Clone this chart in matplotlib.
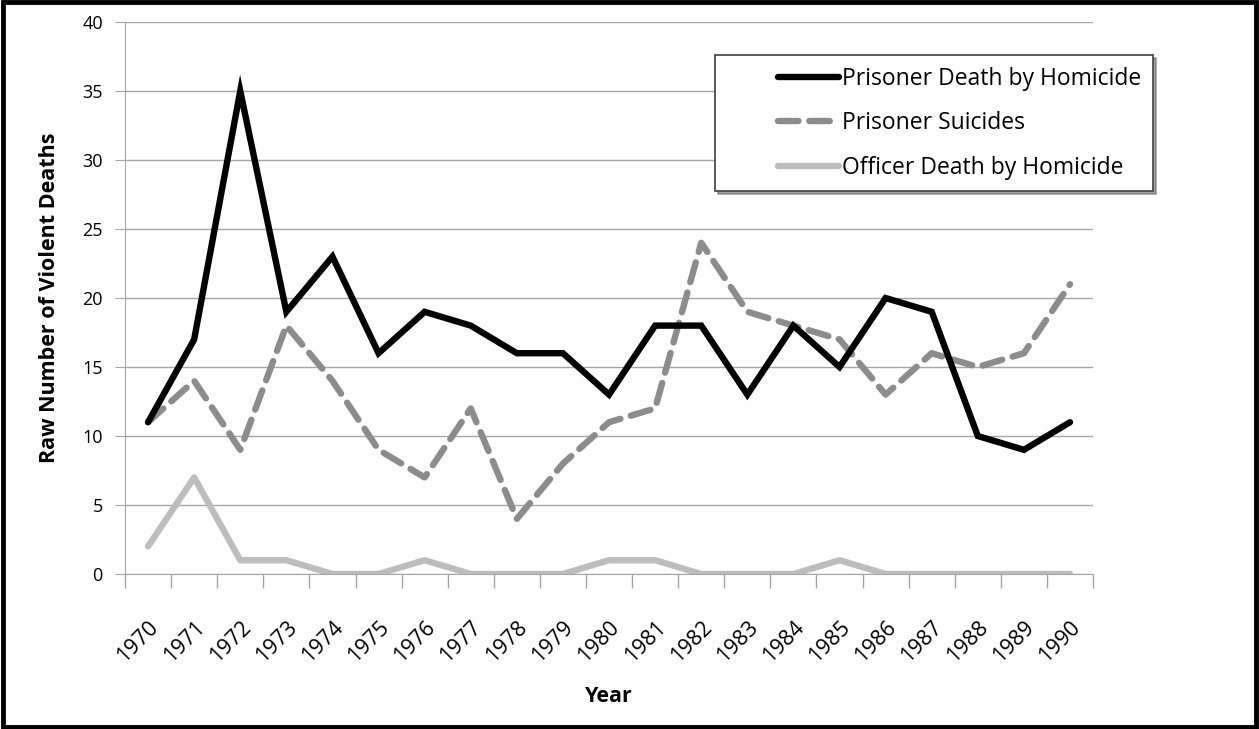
import matplotlib.pyplot as plt
from matplotlib.patches import Rectangle
from matplotlib.legend_handler import HandlerLine2D

years = [str(y) for y in range(1970, 1991)]
homicide = [11, 17, 35, 19, 23, 16, 19, 18, 16, 16, 13, 18, 18, 13, 18, 15, 20, 19, 10, 9, 11]
suicides = [11, 14, 9, 18, 14, 9, 7, 12, 4, 8, 11, 12, 24, 19, 18, 17, 13, 16, 15, 16, 21]
officer = [2, 7, 1, 1, 0, 0, 1, 0, 0, 0, 1, 1, 0, 0, 0, 1, 0, 0, 0, 0, 0]

plt.rcParams['font.family'] = ['Open Sans', 'DejaVu Sans']


# legend line drawn only in the right part of the handle box
class RightHandler(HandlerLine2D):
    def get_xdata(self, legend, xdescent, ydescent, width, height, fontsize):
        x0 = -xdescent + width * 0.46
        x1 = width - xdescent
        return [x0, x1], [x0, x1]


fig = plt.figure(figsize=(12.59, 7.29), dpi=100)
ax = fig.add_axes([0.0993, 0.2126, 0.7689, 0.7572])

x = range(len(years))
ax.plot(x, homicide, color='black', lw=4.6, solid_capstyle='round',
        solid_joinstyle='miter', label='Prisoner Death by Homicide', zorder=4)
ax.plot(x, suicides, color='#8c8c8c', lw=4.6, dashes=(3.2, 1.7),
        dash_capstyle='round', label='Prisoner Suicides', zorder=3)
ax.plot(x, officer, color='#bdbdbd', lw=4.6, solid_capstyle='round',
        label='Officer Death by Homicide', zorder=2)

ax.set_xlim(-0.5, len(years) - 0.5)
ax.set_ylim(0, 40)
ax.set_yticks(range(0, 41, 5))
ax.yaxis.grid(True, color='#a6a6a6', lw=1)
ax.set_axisbelow(True)

ax.set_xticks(list(x))
ax.set_xticklabels(years, rotation=45, ha='right', rotation_mode='anchor', fontsize=15.5)
ax.set_xticks([i - 0.5 for i in range(len(years) + 1)], minor=True)
ax.tick_params(axis='x', which='major', length=0, pad=31)
ax.tick_params(axis='x', which='minor', length=10, color='#a6a6a6', width=1)
ax.tick_params(axis='y', length=7, color='#a6a6a6', labelsize=13, pad=9)

for side in ['top', 'right']:
    ax.spines[side].set_visible(False)
for side in ['left', 'bottom']:
    ax.spines[side].set_color('#a6a6a6')

ax.set_ylabel('Raw Number of Violent Deaths', fontsize=15.5, fontweight='bold', labelpad=16)
ax.set_xlabel('Year', fontsize=15.5, fontweight='bold', labelpad=14)

handler = RightHandler()
leg = ax.legend(loc='upper left', bbox_to_anchor=(0.6095, 0.94), borderaxespad=0,
                fontsize=16.5, handlelength=4.9, handletextpad=0.15, labelspacing=0.9,
                borderpad=0.5, fancybox=False, shadow=True, framealpha=1,
                edgecolor='#404040',
                handler_map={l: handler for l in ax.get_lines()})
leg.get_frame().set_linewidth(1.2)

fig.patches.append(Rectangle((0.002, 0.003), 0.996, 0.994, transform=fig.transFigure,
                             fill=False, edgecolor='black', lw=3.5))

fig.savefig('out.png', dpi=100)
